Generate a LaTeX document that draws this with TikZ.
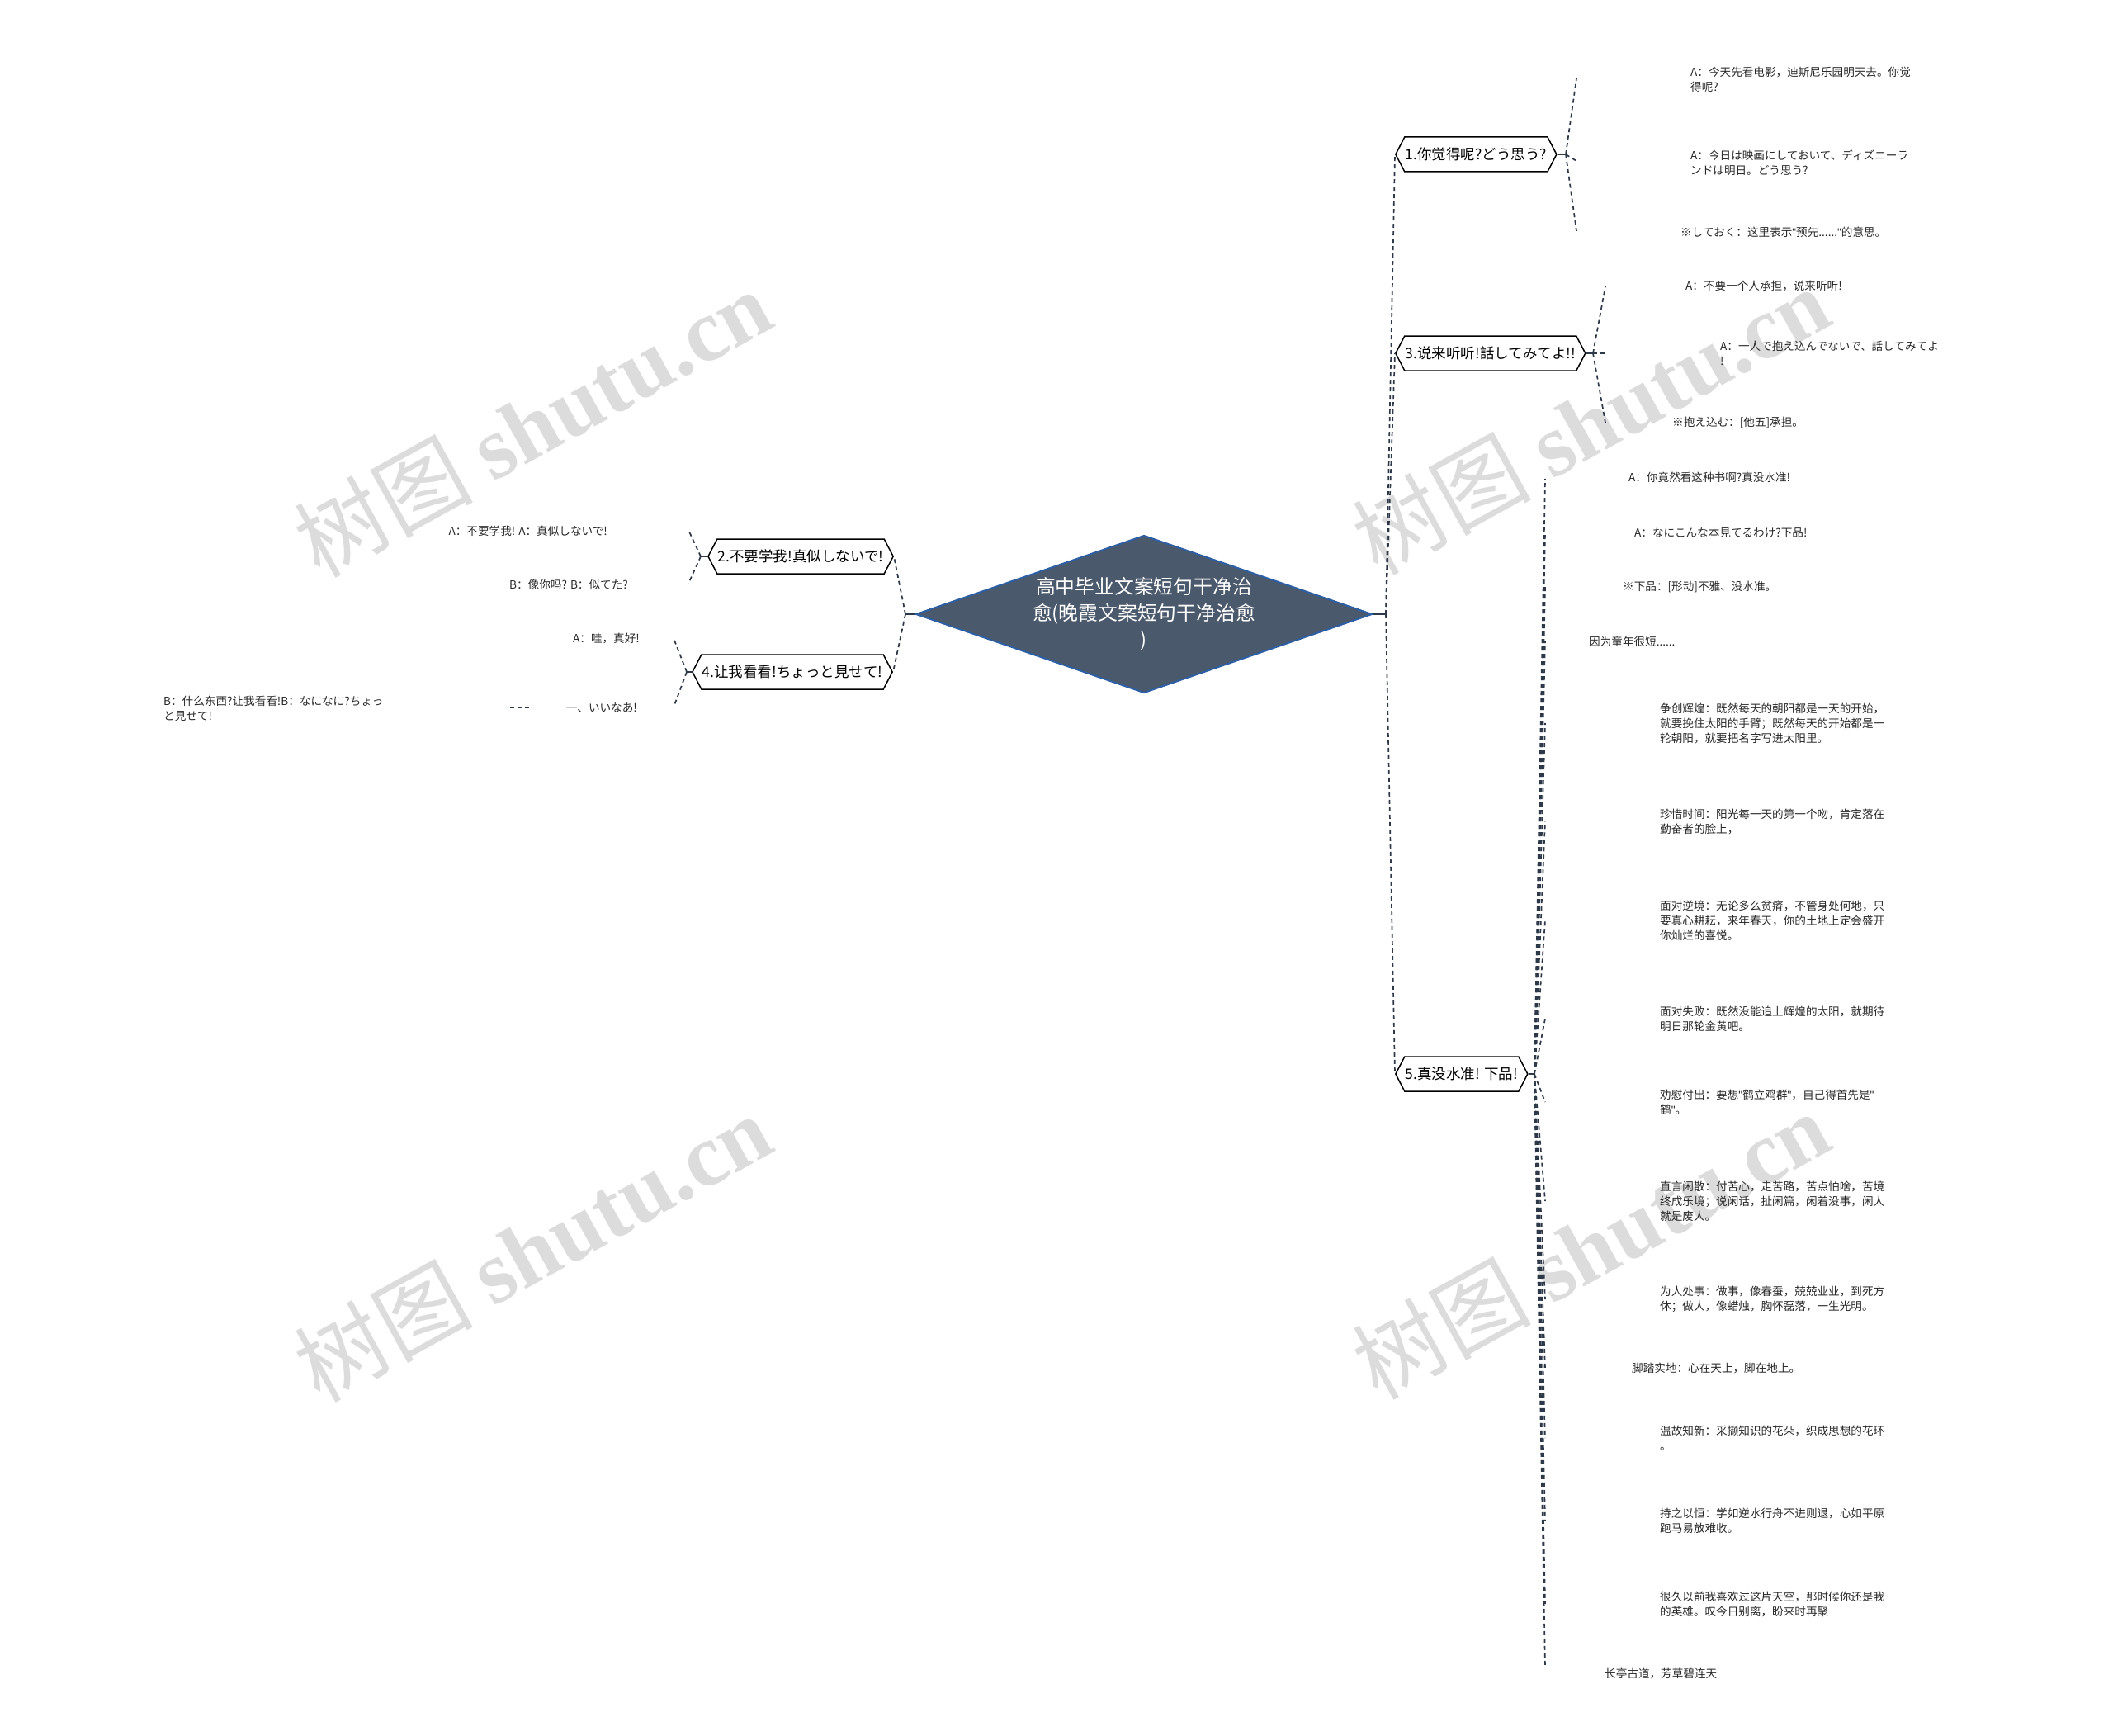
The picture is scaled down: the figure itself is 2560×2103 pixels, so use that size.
\documentclass[tikz,border=0pt]{standalone}
\usepackage{fontspec}
\setmainfont{Noto Sans CJK SC}
\newfontfamily\wmlatin{Liberation Serif}
\newfontfamily\quotefont{Liberation Sans}
\newcommand{\dq}{{\quotefont\symbol{34}}}
\usetikzlibrary{shapes.geometric,shapes.symbols}
\definecolor{linkc}{RGB}{45,56,72}
\definecolor{rootfill}{RGB}{74,89,107}
\definecolor{rootline}{RGB}{45,95,165}
\definecolor{leafc}{RGB}{40,40,40}
\definecolor{wmc}{RGB}{220,220,220}

\begin{document}
\begin{tikzpicture}[x=1pt, y=-1pt,
    link/.style={draw=linkc, line width=1.7, dash pattern=on 5pt off 4pt},
    stub/.style={draw=linkc, line width=1.7},
    branch/.style={signal, signal to=west and east, signal pointer angle=125, draw=black, line width=1.5, fill=white, minimum height=42, inner xsep=1, inner ysep=0, font=\fontsize{17.5}{21}\selectfont},
    leaf/.style={align=left, inner sep=0, text=leafc, font=\fontsize{13.6}{18}\selectfont},
    wmark/.style={rotate=29, text=wmc, font=\fontsize{108}{108}\selectfont}]
  \useasboundingbox (0,0) rectangle (2560,2103);

  % watermarks
  \node[wmark] (wm1) at (645,512) {树图 {\wmlatin\bfseries shutu.cn}};
  \node[wmark] (wm2) at (1927,509) {树图 {\wmlatin\bfseries shutu.cn}};
  \node[wmark] (wm3) at (645,1511) {树图 {\wmlatin\bfseries shutu.cn}};
  \node[wmark] (wm4) at (1927,1508) {树图 {\wmlatin\bfseries shutu.cn}};

  % centre
  \node (root) at (1386,744) [diamond, aspect=2.9, minimum width=553, minimum height=191, inner sep=0, fill=rootfill, draw=rootline, line width=2, text=white, text width=272, align=center, font=\fontsize{23.8}{32}\selectfont] {高中毕业文案短句干净治\\愈(晚霞文案短句干净治愈\\)};

  % topics
  \node (t1) at (1690,187) [branch, anchor=west] {1.你觉得呢?どう思う?};
  \node (t3) at (1690,428) [branch, anchor=west] {3.说来听听!話してみてよ!!};
  \node (t5) at (1690,1301) [branch, anchor=west] {5.真没水准! 下品!};
  \node (t2) at (1083,674) [branch, anchor=east] {2.不要学我!真似しないで!};
  \node (t4) at (1082,814) [branch, anchor=east] {4.让我看看!ちょっと見せて!};

  \coordinate (rhub) at (1679,744);
  \coordinate (lhub) at (1097,744);
  \draw[stub] (root.east) -- (rhub);
  \draw[stub] (root.west) -- (lhub);
  \draw[link] (rhub) -- (t1.west);
  \draw[link] (rhub) -- (t3.west);
  \draw[link] (rhub) -- (t5.west);
  \draw[link] (lhub) -- (t2.east);
  \draw[link] (lhub) -- (t4.east);

  % topic 1
  \node (t1a) at (2048,96) [leaf, anchor=west] {A：今天先看电影，迪斯尼乐园明天去。你觉\\得呢?};
  \node (t1b) at (2048,197) [leaf, anchor=west] {A：今日は映画にしておいて、ディズニーラ\\ンドは明日。どう思う?};
  \node (t1c) at (2036,281) [leaf, anchor=west] {※しておく：这里表示\dq 预先......\dq 的意思。};
  \coordinate (h1) at (1897,187);
  \coordinate (e1a) at (1910,95);
  \coordinate (e1b) at (1910,195);
  \coordinate (e1c) at (1910,280);
  \draw[stub] (t1.east) -- (h1);
  \draw[link] (h1) -- (e1a);
  \draw[link] (h1) -- (e1b);
  \draw[link] (h1) -- (e1c);

  % topic 3
  \node (t3a) at (2042,347) [leaf, anchor=west] {A：不要一个人承担，说来听听!};
  \node (t3b) at (2084,428) [leaf, anchor=west] {A：一人で抱え込んでないで、話してみてよ\\!};
  \node (t3c) at (2026,512) [leaf, anchor=west] {※抱え込む：[他五]承担。};
  \coordinate (h3) at (1930,428);
  \coordinate (e3a) at (1945,347);
  \coordinate (e3b) at (1945,428);
  \coordinate (e3c) at (1945,512);
  \draw[stub] (t3.east) -- (h3);
  \draw[link] (h3) -- (e3a);
  \draw[link] (h3) -- (e3b);
  \draw[link] (h3) -- (e3c);

  % topic 5
  \node (t5a) at (1973,578) [leaf, anchor=west] {A：你竟然看这种书啊?真没水准!};
  \node (t5b) at (1980,645) [leaf, anchor=west] {A：なにこんな本見てるわけ?下品!};
  \node (t5c) at (1966,711) [leaf, anchor=west] {※下品：[形动]不雅、没水准。};
  \node (t5d) at (1925,777) [leaf, anchor=west] {因为童年很短......};
  \node (t5e) at (2011,876) [leaf, anchor=west] {争创辉煌：既然每天的朝阳都是一天的开始，\\就要挽住太阳的手臂；既然每天的开始都是一\\轮朝阳，就要把名字写进太阳里。};
  \node (t5f) at (2011,995) [leaf, anchor=west] {珍惜时间：阳光每一天的第一个吻，肯定落在\\勤奋者的脸上，};
  \node (t5g) at (2011,1115) [leaf, anchor=west] {面对逆境：无论多么贫瘠，不管身处何地，只\\要真心耕耘，来年春天，你的土地上定会盛开\\你灿烂的喜悦。};
  \node (t5h) at (2011,1234) [leaf, anchor=west] {面对失败：既然没能追上辉煌的太阳，就期待\\明日那轮金黄吧。};
  \node (t5i) at (2011,1335) [leaf, anchor=west] {劝慰付出：要想\dq 鹤立鸡群\dq ，自己得首先是\dq\\鹤\dq 。};
  \node (t5j) at (2011,1455) [leaf, anchor=west] {直言闲散：付苦心，走苦路，苦点怕啥，苦境\\终成乐境；说闲话，扯闲篇，闲着没事，闲人\\就是废人。};
  \node (t5k) at (2011,1574) [leaf, anchor=west] {为人处事：做事，像春蚕，兢兢业业，到死方\\休；做人，像蜡烛，胸怀磊落，一生光明。};
  \node (t5l) at (1977,1657) [leaf, anchor=west] {脚踏实地：心在天上，脚在地上。};
  \node (t5m) at (2011,1742) [leaf, anchor=west] {温故知新：采撷知识的花朵，织成思想的花环\\。};
  \node (t5n) at (2011,1842) [leaf, anchor=west] {持之以恒：学如逆水行舟不进则退，心如平原\\跑马易放难收。};
  \node (t5o) at (2011,1943) [leaf, anchor=west] {很久以前我喜欢过这片天空，那时候你还是我\\的英雄。叹今日别离，盼来时再聚};
  \node (t5p) at (1944,2027) [leaf, anchor=west] {长亭古道，芳草碧连天};
  \coordinate (h5) at (1859,1301);
  \coordinate (e5a) at (1872,580);
  \coordinate (e5b) at (1872,645);
  \coordinate (e5c) at (1872,711);
  \coordinate (e5d) at (1872,777);
  \coordinate (e5e) at (1872,876);
  \coordinate (e5f) at (1872,995);
  \coordinate (e5g) at (1872,1115);
  \coordinate (e5h) at (1872,1234);
  \coordinate (e5i) at (1872,1335);
  \coordinate (e5j) at (1872,1455);
  \coordinate (e5k) at (1872,1574);
  \coordinate (e5l) at (1872,1657);
  \coordinate (e5m) at (1872,1742);
  \coordinate (e5n) at (1872,1842);
  \coordinate (e5o) at (1872,1943);
  \coordinate (e5p) at (1872,2020);
  \draw[stub] (t5.east) -- (h5);
  \draw[link] (h5) -- (e5a);
  \draw[link] (h5) -- (e5b);
  \draw[link] (h5) -- (e5c);
  \draw[link] (h5) -- (e5d);
  \draw[link] (h5) -- (e5e);
  \draw[link] (h5) -- (e5f);
  \draw[link] (h5) -- (e5g);
  \draw[link] (h5) -- (e5h);
  \draw[link] (h5) -- (e5i);
  \draw[link] (h5) -- (e5j);
  \draw[link] (h5) -- (e5k);
  \draw[link] (h5) -- (e5l);
  \draw[link] (h5) -- (e5m);
  \draw[link] (h5) -- (e5n);
  \draw[link] (h5) -- (e5o);
  \draw[link] (h5) -- (e5p);

  % topic 2
  \node (t2a) at (736,643) [leaf, anchor=east] {A：不要学我! A：真似しないで!};
  \node (t2b) at (761,708) [leaf, anchor=east] {B：像你吗? B：似てた?};
  \coordinate (h2) at (849,674);
  \coordinate (e2a) at (834,642);
  \coordinate (e2b) at (834,707);
  \draw[stub] (t2.west) -- (h2);
  \draw[link] (h2) -- (e2a);
  \draw[link] (h2) -- (e2b);

  % topic 4
  \node (t4a) at (775,773) [leaf, anchor=east] {A：哇，真好!};
  \node (t4b) at (772,857) [leaf, anchor=east] {一、いいなあ!};
  \node (t4c) at (198,858) [leaf, anchor=west] {B：什么东西?让我看看!B：なになに?ちょっ\\と見せて!};
  \coordinate (h4) at (832,814);
  \coordinate (e4a) at (816,773);
  \coordinate (e4b) at (816,857);
  \coordinate (d4b) at (641,857);
  \coordinate (d4c) at (614,857);
  \draw[stub] (t4.west) -- (h4);
  \draw[link] (h4) -- (e4a);
  \draw[link] (h4) -- (e4b);
  \draw[link] (d4b) -- (d4c);
\end{tikzpicture}
\end{document}
